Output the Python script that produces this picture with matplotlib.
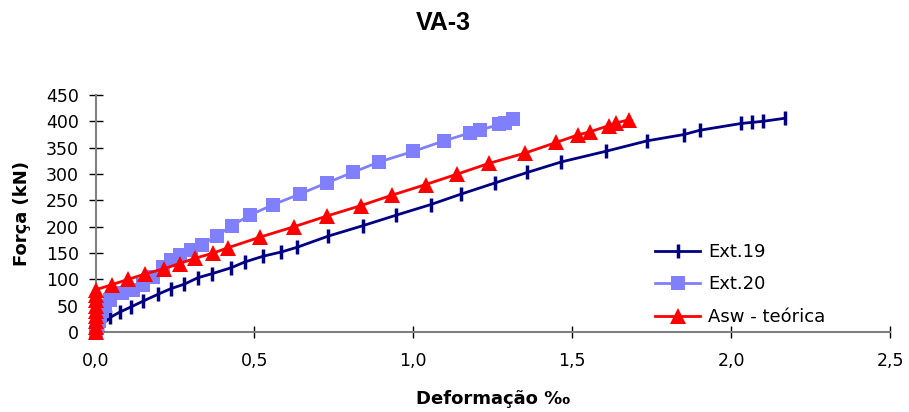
import matplotlib
matplotlib.use("Agg")
import matplotlib.pyplot as plt
from matplotlib.ticker import FuncFormatter

plt.rcParams['font.family'] = ['DejaVu Sans']

# Ext.19
ext19_x = [0.0, 0.020, 0.047, 0.077, 0.113, 0.151, 0.198, 0.236, 0.280, 0.322, 0.368,
           0.427, 0.470, 0.528, 0.585, 0.635, 0.732, 0.842, 0.947, 1.055, 1.151, 1.257,
           1.359, 1.466, 1.605, 1.736, 1.852, 1.901, 2.032, 2.066, 2.100, 2.171]
ext19_y = [0, 13, 28, 38, 48, 59, 72, 82, 91, 103, 111,
           122, 133, 144, 152, 161, 182, 202, 222, 242, 262, 283,
           303, 323, 343, 363, 375, 383, 396, 398, 400, 406]

# Ext.20
ext20_x = [0.0, 0.005, 0.01, 0.015, 0.02, 0.03, 0.046, 0.083, 0.119, 0.150, 0.182, 0.213,
           0.239, 0.266, 0.302, 0.334, 0.381, 0.429, 0.486, 0.560, 0.643, 0.727, 0.809,
           0.893, 1.000, 1.097, 1.178, 1.209, 1.269, 1.288, 1.314]
ext20_y = [0, 10, 20, 30, 40, 50, 61, 74, 80, 89, 105, 124,
           136, 146, 155, 166, 182, 202, 222, 242, 262, 283, 303,
           323, 343, 363, 378, 383, 394, 397, 405]

# Asw - teórica
asw_x = [0.0, 0.0, 0.0, 0.0, 0.0, 0.0, 0.0, 0.0, 0.0, 0.052, 0.103, 0.155, 0.214, 0.265,
         0.313, 0.371, 0.417, 0.517, 0.625, 0.727, 0.835, 0.934, 1.039, 1.139, 1.237,
         1.353, 1.450, 1.517, 1.555, 1.616, 1.639, 1.678]
asw_y = [0, 10, 20, 30, 40, 50, 60, 70, 80, 90, 100, 110, 120, 130,
         140, 150, 160, 180, 200, 220, 240, 260, 280, 300, 320,
         340, 360, 374, 380, 392, 397, 403]

x_ticks = [0.0, 0.5, 1.0, 1.5, 2.0, 2.5]
y_ticks = [0, 50, 100, 150, 200, 250, 300, 350, 400, 450]

fig = plt.figure(figsize=(9.09, 4.12), dpi=100)
ax = fig.add_axes([95.5/909, 80/412, (890-95.5)/909, (332-95)/412])

ax.plot(ext19_x, ext19_y, color='#000080', lw=2.0, marker='|', ms=10, mew=2.5,
        label='Ext.19', clip_on=False, zorder=3)
ax.plot(ext20_x, ext20_y, color='#8080FF', lw=2.0, marker='s', ms=9.5, mew=0,
        label='Ext.20', clip_on=False, zorder=4)
ax.plot(asw_x, asw_y, color='#FF0000', lw=2.0, marker='^', ms=11, mew=0,
        label='Asw - teórica', clip_on=False, zorder=5)

ax.set_xlim(0, 2.5)
ax.set_ylim(0, 450)
ax.set_xticks(x_ticks)
ax.set_yticks(y_ticks)
ax.xaxis.set_major_formatter(FuncFormatter(lambda v, p: f"{v:.1f}".replace('.', ',')))

for s in ['top', 'right']:
    ax.spines[s].set_visible(False)
for s in ['left', 'bottom']:
    ax.spines[s].set_color('#808080')
    ax.spines[s].set_linewidth(1.5)

ax.tick_params(axis='both', direction='inout', length=10, width=1.0, color='black',
               labelsize=12.5)
ax.tick_params(axis='y', pad=7)
ax.tick_params(axis='x', length=9, pad=10)

ax.set_xlabel('Deformação ‰', fontsize=13, fontweight='bold', labelpad=14)
ax.set_ylabel('Força (kN)', fontsize=13, fontweight='bold', labelpad=11)

fig.text(0.488, 0.945, 'VA-3', ha='center', va='center', fontsize=18,
         fontweight='bold', family=['Liberation Sans', 'DejaVu Sans'])

leg = ax.legend(loc='upper left', bbox_to_anchor=(655/909, 1 - 243/412),
                bbox_transform=fig.transFigure, frameon=False, fontsize=13,
                handlelength=2.5, handletextpad=0.45, labelspacing=0.8,
                borderaxespad=0, borderpad=0)

fig.savefig('out.png', dpi=100)
